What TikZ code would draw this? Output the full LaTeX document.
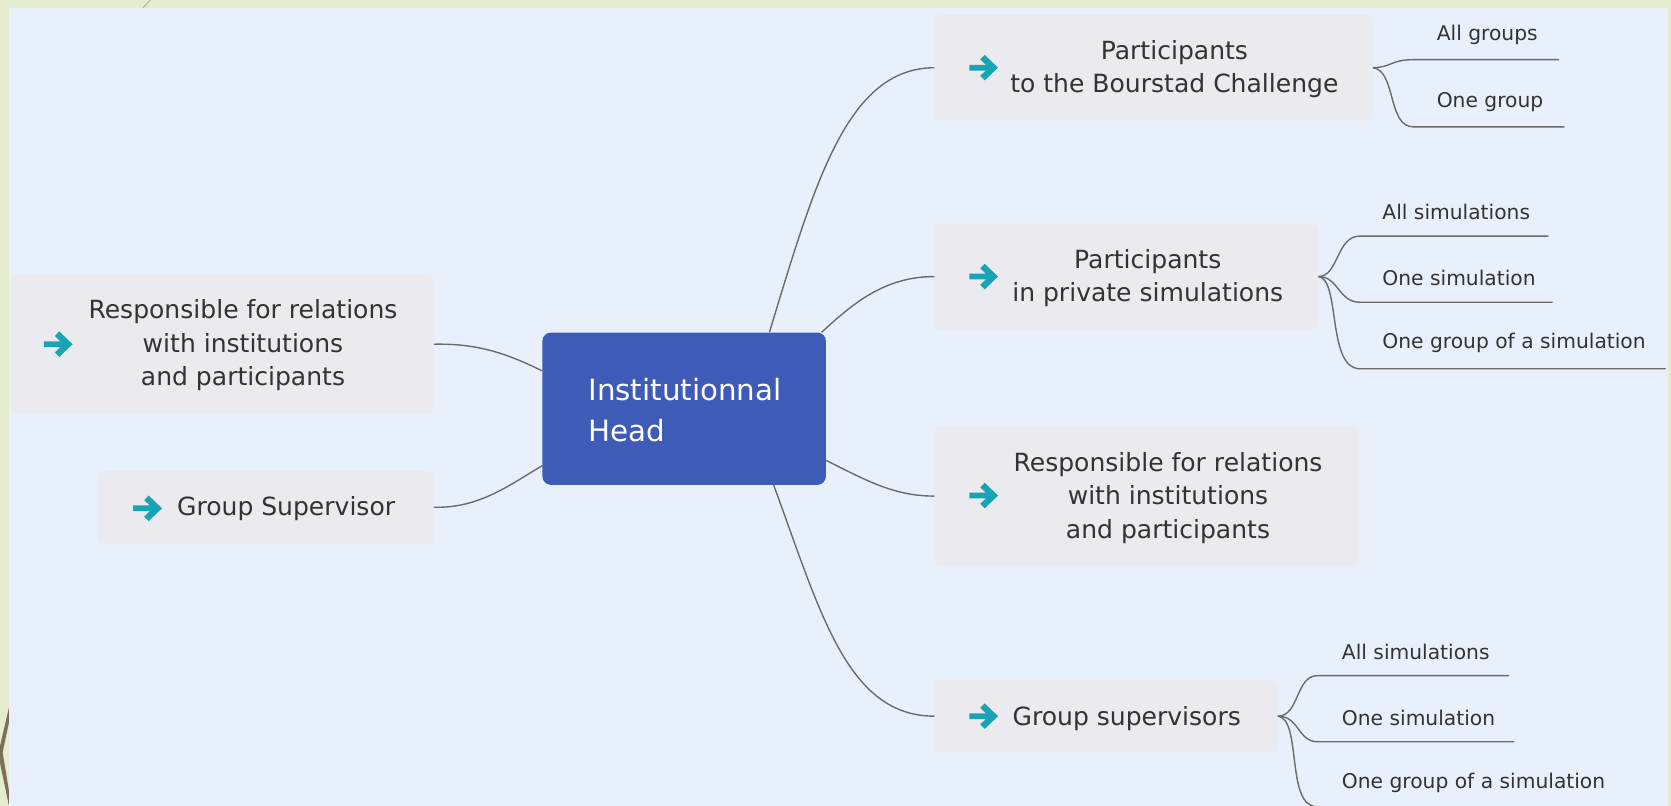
\documentclass[tikz,border=0pt]{standalone}
\usepackage{fontspec}
\setmainfont{DejaVu Sans}
\definecolor{panel}{HTML}{E8F1FB}
\definecolor{framegreen}{HTML}{E5ECCF}
\definecolor{boxfill}{HTML}{EAEAEF}
\definecolor{headfill}{HTML}{3F5BB8}
\definecolor{iconteal}{HTML}{17A5B6}
\definecolor{linegray}{HTML}{6A6A6A}
\definecolor{txt}{HTML}{333333}
\definecolor{leafbrown}{HTML}{7A7055}
\begin{document}
\begin{tikzpicture}[x=1pt,y=-1pt,
  boxnode/.style={fill=boxfill, rounded corners=6pt, inner sep=0pt},
  headnode/.style={fill=headfill, rounded corners=8pt, inner sep=0pt},
  lbl/.style={text=txt, font=\fontsize{23.5}{31.5}\selectfont, align=center, inner sep=0pt},
  sublbl/.style={text=txt, font=\fontsize{19}{23}\selectfont, anchor=west, inner sep=0pt},
  conn/.style={draw=linegray, line width=1.3pt},
  goarrow/.pic={\fill[iconteal] (13.5,0) -- (1,-12) -- (-3.2,-7.7) -- (2.1,-2.7) -- (-13.5,-2.7) -- (-13.5,2.7) -- (2.1,2.7) -- (-3.2,7.7) -- (1,12) -- cycle;}
]
\useasboundingbox (0,0) rectangle (1568,756);
% background
\fill[framegreen] (0,0) rectangle (1568,756);
\fill[panel] (8.4,7.5) rectangle (1565,760);
\draw[gray!60, line width=1pt] (134,7.5) -- (141,0);
\fill[leafbrown] (8.4,664) -- (8.4,678) -- (2.5,706) -- (8.4,742) -- (8.4,756) -- (0,716) -- (0,700) -- cycle;

% boxes
\node[headnode, minimum width=266pt, minimum height=143pt] (head) at (642,383.5) {};
\node[boxnode, minimum width=397pt, minimum height=130pt] (ln1) at (208.5,323) {};
\node[boxnode, minimum width=315pt, minimum height=68pt] (ln2) at (249.5,476) {};
\node[boxnode, minimum width=411pt, minimum height=99pt] (rn1) at (1082.5,63.5) {};
\node[boxnode, minimum width=360pt, minimum height=99pt] (rn2) at (1057,259.5) {};
\node[boxnode, minimum width=398pt, minimum height=131pt] (rn3) at (1076,465.5) {};
\node[boxnode, minimum width=322pt, minimum height=68pt] (rn4) at (1038,672) {};

% texts
\node[text=white, font=\fontsize{27.5}{38}\selectfont, align=left, anchor=west, inner sep=0pt] (headtxt) at (552,385) {Institutionnal\\Head};
\node[lbl] (ln1txt) at (228,324) {Responsible for relations\\with institutions\\and participants};
\node[lbl, anchor=west] (ln2txt) at (166,477) {Group Supervisor};
\node[lbl] (rn1txt) at (1102,65) {Participants\\to the Bourstad Challenge};
\node[lbl] (rn2txt) at (1077,261) {Participants\\in private simulations};
\node[lbl] (rn3txt) at (1096,467) {Responsible for relations\\with institutions\\and participants};
\node[lbl, anchor=west] (rn4txt) at (950,674) {Group supervisors};

% icons
\pic at (54.6,323) {goarrow};
\pic at (138.5,477) {goarrow};
\pic at (923,63.5) {goarrow};
\pic at (923,259.5) {goarrow};
\pic at (923,465) {goarrow};
\pic at (923,672) {goarrow};

% main connectors
\draw[conn] (ln1.east) .. controls (450,322) and (478,333) .. (head.west |- 0,348);
\draw[conn] (ln2.east) .. controls (450,477) and (478,455) .. (head.west |- 0,437);
\draw[conn] (head.north -| 722,0) .. controls (765,170) and (795,64) .. (rn1.west);
\draw[conn] (head.north -| 771,0) .. controls (800,285) and (830,259.5) .. (rn2.west);
\draw[conn] (head.east |- 0,432) .. controls (815,452) and (840,465.5) .. (rn3.west);
\draw[conn] (head.south -| 726,0) .. controls (770,575) and (795,672) .. (rn4.west);

% sub-topics of rn1
\coordinate (a1) at (1326,56);   \coordinate (a1e) at (1463,56);
\coordinate (a2) at (1326,119);  \coordinate (a2e) at (1468,119);
\node[sublbl] (t11) at (1348,33) {All groups};
\node[sublbl] (t12) at (1348,96) {One group};
\draw[conn] (rn1.east) .. controls (1305,63.5) and (1305,56) .. (a1) -- (a1e);
\draw[conn] (rn1.east) .. controls (1310,66) and (1302,119) .. (a2) -- (a2e);

% sub-topics of rn2
\coordinate (b1) at (1276,221.5); \coordinate (b1e) at (1453,221.5);
\coordinate (b2) at (1276,283.6); \coordinate (b2e) at (1457,283.6);
\coordinate (b3) at (1276,346);   \coordinate (b3e) at (1563,346);
\node[sublbl] (t21) at (1297,199) {All simulations};
\node[sublbl] (t22) at (1297,261) {One simulation};
\node[sublbl] (t23) at (1297,322) {One group of a simulation};
\draw[conn] (rn2.east) .. controls (1256,259.5) and (1254,221.5) .. (b1) -- (b1e);
\draw[conn] (rn2.east) .. controls (1256,259.5) and (1256,283.6) .. (b2) -- (b2e);
\draw[conn] (rn2.east) .. controls (1258,262) and (1245,346) .. (b3) -- (b3e);

% sub-topics of rn4
\coordinate (c1) at (1236,634); \coordinate (c1e) at (1416,634);
\coordinate (c2) at (1236,696); \coordinate (c2e) at (1421,696);
\coordinate (c3) at (1236,757); \coordinate (c3e) at (1530,757);
\node[sublbl] (t41) at (1259,612) {All simulations};
\node[sublbl] (t42) at (1259,674) {One simulation};
\node[sublbl] (t43) at (1259,735) {One group of a simulation};
\draw[conn] (rn4.east) .. controls (1219,672) and (1216,634) .. (c1) -- (c1e);
\draw[conn] (rn4.east) .. controls (1219,672) and (1218,696) .. (c2) -- (c2e);
\draw[conn] (rn4.east) .. controls (1222,675) and (1206,757) .. (c3) -- (c3e);
\end{tikzpicture}
\end{document}
